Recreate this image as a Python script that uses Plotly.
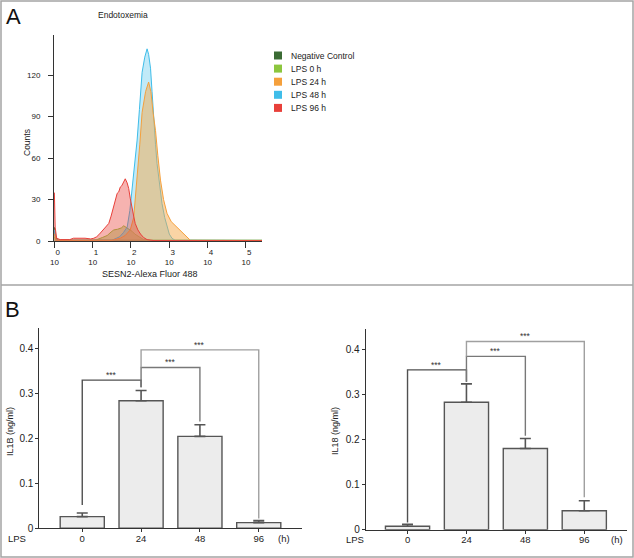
import plotly.graph_objects as go

W, H = 634, 558
FONT = "Liberation Sans, Arial, sans-serif"

# ---------------- Panel A: flow histogram data (log10 fluorescence, counts) ----------------
hist_names = ["Negative Control", "LPS 0 h", "LPS 24 h", "LPS 48 h", "LPS 96 h"]
hist_colors = ["#3b6b34", "#8cc63e", "#f5a03c", "#3fbde9", "#e8403a"]
hist_fills = ["rgba(59,107,52,0.35)", "rgba(140,198,62,0.45)", "rgba(245,170,75,0.50)",
              "rgba(63,189,233,0.32)", "rgba(232,64,58,0.40)"]
draw_order = [0, 1, 3, 2, 4]

nc_log = [0.0, 0.03, 0.08, 1.0, 2.0, 3.0, 4.0, 5.42]
nc_cnt = [10, 3, 0.6, 0.5, 0.5, 0.5, 0.5, 0.5]

l0_log = [0.0, 0.05, 1.0, 1.11, 1.25, 1.38, 1.48, 1.55, 1.65, 1.75, 1.81, 1.9, 2.03, 2.1, 2.16, 2.25, 2.33, 2.45, 5.42]
l0_cnt = [3, 0.5, 0.5, 1, 2.5, 4, 6.5, 8, 8.5, 9.5, 11, 9.5, 7, 5, 4, 2, 1, 0.5, 0.5]

l24_log = [0.0, 0.05, 1.5, 1.72, 1.85, 1.98, 2.07, 2.16, 2.23, 2.29, 2.38, 2.46, 2.52, 2.58, 2.64, 2.7,
           2.77, 2.85, 2.94, 3.05, 3.2, 3.35, 3.46, 3.55, 5.42]
l24_cnt = [5, 0.5, 0.5, 2, 4, 8, 17, 44, 70, 93, 108, 115, 108, 92, 80, 62,
           44, 30, 20, 14, 10, 6, 3, 0.5, 0.3]

l48_log = [0.0, 0.05, 1.5, 1.7, 1.8, 1.9, 1.97, 2.03, 2.1, 2.16, 2.22, 2.29, 2.36, 2.42, 2.46, 2.51,
           2.55, 2.59, 2.64, 2.68, 2.75, 2.81, 2.88, 2.94, 3.0, 3.07, 3.15, 5.42]
l48_cnt = [8, 0.5, 0.5, 3, 6, 10, 22, 37, 55, 73, 95, 122, 133, 139, 135, 125,
           108, 88, 70, 56, 40, 27, 17, 10, 5, 2, 0.5, 0.3]

l96_log = [0.0, 0.02, 0.06, 0.15, 0.4, 0.5, 0.8, 0.95, 1.03, 1.1, 1.16, 1.22, 1.29, 1.35, 1.42, 1.48,
           1.55, 1.6, 1.64, 1.68, 1.72, 1.76, 1.8, 1.85, 1.9, 1.94, 1.98, 2.03, 2.07, 2.11, 2.18,
           2.25, 2.33, 2.42, 2.6, 5.42]
l96_cnt = [35, 10, 2, 1, 1, 2, 2, 1.5, 2, 3, 4.5, 6.5, 8, 10, 12.7, 18,
           25, 31, 34.5, 35.5, 39, 40, 42, 45, 42, 38, 31, 25, 18, 12.7, 8,
           5, 2.5, 1, 0.3, 0.2]

hist_x = [nc_log, l0_log, l24_log, l48_log, l96_log]
hist_y = [nc_cnt, l0_cnt, l24_cnt, l48_cnt, l96_cnt]

hist_xticks = [0, 1, 2, 3, 4, 5]
hist_yticks = [0, 30, 60, 90, 120]

# ---------------- Panel B: cytokine bars ----------------
lps_hours = ["0", "24", "48", "96"]
il1b_mean = [0.026, 0.283, 0.204, 0.0125]
il1b_err = [0.008, 0.023, 0.026, 0.0045]
il18_mean = [0.0075, 0.2825, 0.180, 0.042]
il18_err = [0.0045, 0.0405, 0.022, 0.022]

# brackets: (from index, to index, height, left leg bottom, right leg bottom)
il1b_brackets = [(0, 1, 0.329, 0.052, 0.313), (1, 2, 0.357, 0.313, 0.237), (1, 3, 0.396, 0.357, 0.022)]
il18_brackets = [(0, 1, 0.354, 0.016, 0.328), (1, 2, 0.384, 0.328, 0.208), (1, 3, 0.417, 0.384, 0.072)]
bracket_colors = ["#505050", "#787878", "#a0a0a0"]
bracket_label = "***"


def px(x):
    return x / W


def py(y):
    return 1 - y / H


fig = go.Figure()

# histograms
for i in draw_order:
    fig.add_trace(go.Scatter(x=hist_x[i], y=hist_y[i], mode="lines", fill="tozeroy",
                             fillcolor=hist_fills[i], line=dict(color=hist_colors[i], width=1),
                             name=hist_names[i], showlegend=False, xaxis="x", yaxis="y"))

# bars
for mean, err, xa, ya in [(il1b_mean, il1b_err, "x2", "y2"), (il18_mean, il18_err, "x3", "y3")]:
    fig.add_trace(go.Bar(x=list(range(len(lps_hours))), y=mean, width=0.75,
                         marker=dict(color="#ececec", line=dict(color="#555555", width=1.4)),
                         error_y=dict(type="data", array=err, arrayminus=[0] * len(err), symmetric=False,
                                      color="#555555", thickness=1.6, width=5.5),
                         showlegend=False, xaxis=xa, yaxis=ya))

annotations = []
for brs, xa, ya in [(il1b_brackets, "x2", "y2"), (il18_brackets, "x3", "y3")]:
    for (a, b, h, la, lb), col in zip(brs, bracket_colors):
        fig.add_trace(go.Scatter(x=[a, a, b, b], y=[la, h, h, lb], mode="lines",
                                 line=dict(color=col, width=1.4), showlegend=False,
                                 hoverinfo="skip", xaxis=xa, yaxis=ya))
        annotations.append(dict(x=(a + b) / 2, y=h, xref=xa, yref=ya, text=bracket_label,
                                showarrow=False, yanchor="middle", yshift=5,
                                font=dict(size=8.5, color="#333", family=FONT)))

axis_common = dict(showline=True, linecolor="#333", linewidth=1, showgrid=False, zeroline=False,
                   ticks="outside", tickcolor="#333", automargin=False)

fig.update_layout(
    width=W, height=H, margin=dict(l=0, r=0, t=0, b=0, pad=0, autoexpand=False),
    paper_bgcolor="white", plot_bgcolor="white", showlegend=False,
    font=dict(family=FONT, color="#222"),
    xaxis=dict(domain=[px(54), px(262)], range=[-0.01, 5.42], anchor="y",
               tickvals=hist_xticks,
               ticktext=["&nbsp;&nbsp;&nbsp;%d<br>10" % e for e in hist_xticks],
               ticklen=6, ticklabelstandoff=-3,
               tickfont=dict(family=FONT, size=8, color="#222"), **axis_common),
    yaxis=dict(domain=[py(241), py(35)], range=[0, 149], anchor="x", tickvals=hist_yticks,
               ticklen=5, ticklabelstandoff=6,
               tickfont=dict(family=FONT, size=8, color="#222"), **axis_common),
    xaxis2=dict(domain=[px(39.3), px(301.7)], range=[-0.73, 3.73], anchor="y2",
                tickvals=list(range(len(lps_hours))), ticktext=lps_hours, ticklen=3,
                ticklabelstandoff=-2,
                tickfont=dict(family=FONT, size=9.5, color="#222"), **axis_common),
    yaxis2=dict(domain=[py(528.3), py(328.3)], range=[0, 0.444], anchor="x2",
                tickvals=[0, 0.1, 0.2, 0.3, 0.4], ticktext=["0", "0.1", "0.2", "0.3", "0.4"], ticklen=3,
                tickfont=dict(family=FONT, size=10, color="#222"), **axis_common),
    xaxis3=dict(domain=[px(365.7), px(626.7)], range=[-0.71, 3.72], anchor="y3",
                tickvals=list(range(len(lps_hours))), ticktext=lps_hours, ticklen=3,
                ticklabelstandoff=-2,
                tickfont=dict(family=FONT, size=9.5, color="#222"), **axis_common),
    yaxis3=dict(domain=[py(529.7), py(329.3)], range=[0, 0.444], anchor="x3",
                tickvals=[0, 0.1, 0.2, 0.3, 0.4], ticktext=["0", "0.1", "0.2", "0.3", "0.4"], ticklen=3,
                tickfont=dict(family=FONT, size=10, color="#222"), **axis_common),
)


def text_ann(x, y, text, size, angle=0, xanchor="center", yanchor="middle", color="#222"):
    annotations.append(dict(x=px(x), y=py(y), xref="paper", yref="paper", text=text, showarrow=False,
                            textangle=angle, xanchor=xanchor, yanchor=yanchor,
                            font=dict(family=FONT, size=size, color=color)))


text_ann(13, 16, "A", 22, color="#111")
text_ann(12, 309, "B", 22, color="#111")
text_ann(123, 15, "Endotoxemia", 8.5)
text_ann(27, 143, "Counts", 8.5, angle=-90)
text_ann(150, 274, "SESN2-Alexa Fluor 488", 9)
text_ann(10, 432, "IL1B (ng/ml)", 9, angle=-90)
text_ann(335, 431, "IL18 (ng/ml)", 9, angle=-90)
text_ann(17, 538, "LPS", 9.5)
text_ann(284, 538, "(h)", 9.5)
text_ann(355, 539, "LPS", 9.5)
text_ann(617, 539, "(h)", 9.5)

# legend (squares + labels)
shapes = []
for i, (name, c) in enumerate(zip(hist_names, hist_colors)):
    yc = 55.5 + i * 13.1
    shapes.append(dict(type="rect", xref="paper", yref="paper", x0=px(274), x1=px(282),
                       y0=py(yc + 4), y1=py(yc - 4), fillcolor=c, line=dict(width=0)))
    text_ann(289, yc, name, 8.5, xanchor="left")

# panel borders
shapes.append(dict(type="rect", xref="paper", yref="paper", x0=px(1), x1=px(633), y0=py(557), y1=py(1),
                   line=dict(color="#a4a4a4", width=1.5)))
shapes.append(dict(type="line", xref="paper", yref="paper", x0=px(1), x1=px(633), y0=py(285), y1=py(285),
                   line=dict(color="#a4a4a4", width=1.5)))

fig.update_layout(annotations=annotations, shapes=shapes)
fig.write_html("out.html", config={"displayModeBar": False},
               post_script="document.body.style.margin='0';document.body.style.overflow='hidden';")
